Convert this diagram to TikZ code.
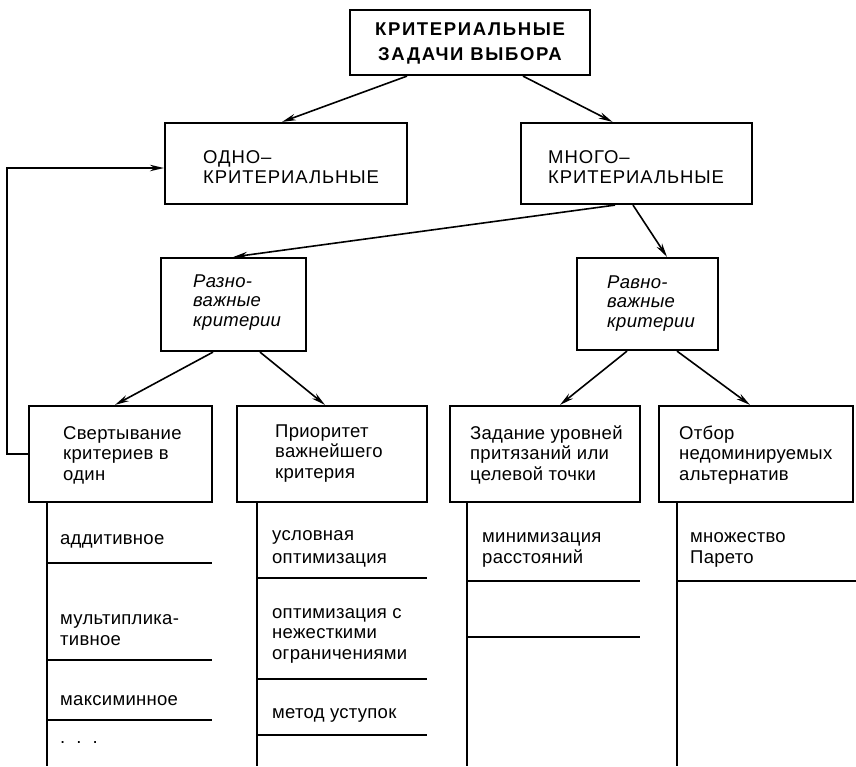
\documentclass[tikz,border=0pt]{standalone}
\usepackage{fontspec}
\setmainfont{Liberation Sans}
\usetikzlibrary{arrows.meta}
\begin{document}
\begin{tikzpicture}[x=1pt,y=-1pt,
  box/.style={draw, line width=2.2pt, inner sep=0pt},
  txt/.style={anchor=base west, inner sep=0pt, align=left, font=\fontsize{18.5}{20.5}\selectfont\addfontfeatures{LetterSpace=1.5}},
  itx/.style={txt, font=\fontsize{18.5}{19.5}\selectfont\itshape\addfontfeatures{LetterSpace=1.5}},
  capt/.style={txt, font=\fontsize{18.5}{20}\selectfont\addfontfeatures{LetterSpace=5}},
  arr/.style={-{Stealth[length=14pt,width=6.5pt]}, line width=1.6pt},
  sep/.style={line width=1.6pt},
  vline/.style={line width=2.2pt}]
\useasboundingbox (0,0) rectangle (856,766);
% boxes
\node[box, minimum width=240, minimum height=65] (top) at (470,42.5) {};
\node[box, minimum width=242, minimum height=81] (odno) at (286,163.5) {};
\node[box, minimum width=231, minimum height=81] (mnogo) at (636.5,163.5) {};
\node[box, minimum width=145, minimum height=93] (razno) at (233.5,304.5) {};
\node[box, minimum width=141, minimum height=92] (ravno) at (647.5,304) {};
\node[box, minimum width=183, minimum height=96] (b1) at (120.5,454) {};
\node[box, minimum width=190, minimum height=96] (b2) at (332,454) {};
\node[box, minimum width=190, minimum height=96] (b3) at (545,454) {};
\node[box, minimum width=194, minimum height=96] (b4) at (756,454) {};
% box texts
\node[anchor=base, inner sep=0pt, align=center,
      font=\fontsize{18.5}{25}\selectfont\bfseries\addfontfeatures{LetterSpace=9}] (ttop) at (top.center |- 0,60) {КРИТЕРИАЛЬНЫЕ\\ЗАДАЧИ ВЫБОРА};
\node[capt] (todno) at (203,183) {ОДНО–\\КРИТЕРИАЛЬНЫЕ};
\node[capt] (tmnogo) at (548,183) {МНОГО–\\КРИТЕРИАЛЬНЫЕ};
\node[itx] (trazno) at (193,326) {Разно-\\важные\\критерии};
\node[itx] (travno) at (607,327) {Равно-\\важные\\критерии};
\node[txt] (tb1) at (63,480) {Свертывание\\критериев в\\один};
\node[txt] (tb2) at (275,478) {Приоритет\\важнейшего\\критерия};
\node[txt] (tb3) at (470,480) {Задание уровней\\притязаний или\\целевой точки};
\node[txt] (tb4) at (679,480) {Отбор\\недоминируемых\\альтернатив};
% arrows
\draw[arr] ([xshift=-63pt]top.south) -- ([xshift=-4pt]odno.north);
\draw[arr] ([xshift=53pt]top.south) -- ([xshift=-24pt]mnogo.north);
\draw[arr] ([xshift=-21.5pt]mnogo.south) -- (razno.north);
\draw[arr] ([xshift=-3.5pt]mnogo.south) -- ([xshift=19.5pt]ravno.north);
\draw[arr] ([xshift=-20.5pt]razno.south) -- ([xshift=-5.5pt]b1.north);
\draw[arr] ([xshift=26.5pt]razno.south) -- ([xshift=-7pt]b2.north);
\draw[arr] ([xshift=-20.5pt]ravno.south) -- ([xshift=15pt]b3.north);
\draw[arr] ([xshift=29.5pt]ravno.south) -- ([xshift=-6pt]b4.north);
\draw[arr] (b1.west) -- ++(-21,0) |- ([yshift=-4.5pt]odno.west);
% list columns
\coordinate (e1) at (47,766);
\coordinate (e2) at (257,766);
\coordinate (e3) at (467,766);
\coordinate (e4) at (677,766);
\draw[vline] (b1.south -| e1) -- (e1);
\draw[vline] (b2.south -| e2) -- (e2);
\draw[vline] (b3.south -| e3) -- (e3);
\draw[vline] (b4.south -| e4) -- (e4);
% separators
\foreach \yy in {563,660,720} \draw[sep] (47,\yy) -- (212,\yy);
\foreach \yy in {578,679,735} \draw[sep] (257,\yy) -- (427,\yy);
\foreach \yy in {581,637} \draw[sep] (467,\yy) -- (640,\yy);
\foreach \yy in {581} \draw[sep] (677,\yy) -- (856,\yy);
% list texts
\node[txt] (l11) at (60,544) {аддитивное};
\node[txt] (l12) at (60,645) {мультиплика-\\тивное};
\node[txt] (l13) at (60,705) {максиминное};
\node[txt] (l14) at (60,743) {.\hspace{0.6em}.\hspace{0.6em}.};
\node[txt, font=\fontsize{18.5}{23}\selectfont\addfontfeatures{LetterSpace=1.5}] (l21) at (272,563) {условная\\оптимизация};
\node[txt] (l22) at (272,659) {оптимизация с\\нежесткими\\ограничениями};
\node[txt] (l23) at (272,718) {метод уступок};
\node[txt] (l31) at (482,563) {минимизация\\расстояний};
\node[txt] (l41) at (690,563) {множество\\Парето};
\end{tikzpicture}
\end{document}
